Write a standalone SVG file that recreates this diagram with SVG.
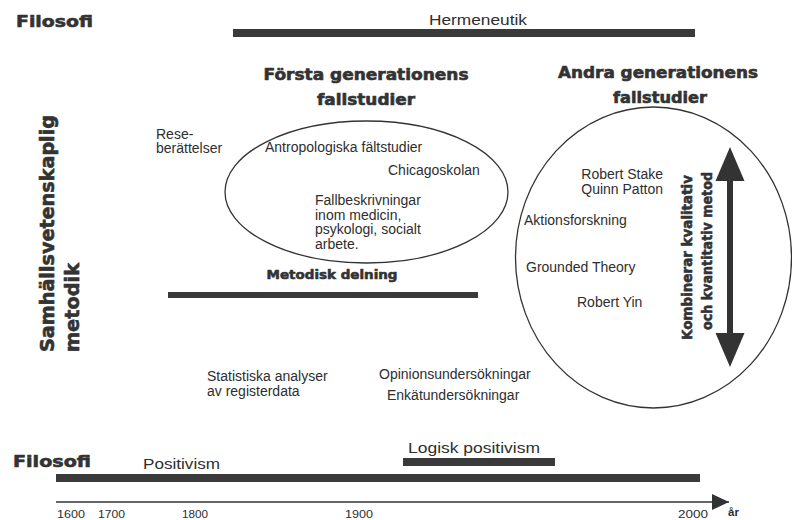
<svg xmlns="http://www.w3.org/2000/svg" width="792" height="520" viewBox="0 0 792 520">
<style>
.t{font-family:"Liberation Sans",Arial,sans-serif;font-size:14px;fill:#2e2e2e}
.h{font-family:"DejaVu Sans","Liberation Sans",sans-serif;font-weight:bold;fill:#333;stroke:#333;stroke-width:0.6;stroke-linejoin:round}
.bar{fill:#3a3a3a}
.ell{fill:none;stroke:#333;stroke-width:1.3}
.yr{font-family:"Liberation Sans",Arial,sans-serif;font-size:11.5px;fill:#2e2e2e}
</style>
<defs>
<marker id="ah" viewBox="0 0 17 16" refX="17" refY="8" markerWidth="17" markerHeight="16" markerUnits="userSpaceOnUse" orient="auto">
<path d="M0,0 L17,8 L0,16 Z" fill="#333"/>
</marker>
</defs>
<rect width="792" height="520" fill="#fff"/>

<g id="filosofi-top">
<text class="h" x="16" y="27" font-size="16.5" textLength="77" lengthAdjust="spacingAndGlyphs">Filosofi</text>
</g>
<g id="hermeneutik">
<text class="t" x="429" y="25" font-size="17" textLength="98" lengthAdjust="spacingAndGlyphs">Hermeneutik</text>
<rect class="bar" x="233" y="29" width="462" height="8"/>
</g>

<g id="first-gen-title">
<text class="h" x="366" y="80" font-size="15" text-anchor="middle" textLength="205" lengthAdjust="spacingAndGlyphs">Första generationens</text>
<text class="h" x="366" y="105" font-size="15" text-anchor="middle" textLength="98" lengthAdjust="spacingAndGlyphs">fallstudier</text>
</g>
<g id="second-gen-title">
<text class="h" x="658" y="78" font-size="15" text-anchor="middle" textLength="200" lengthAdjust="spacingAndGlyphs">Andra generationens</text>
<text class="h" x="660" y="103" font-size="15" text-anchor="middle" textLength="94" lengthAdjust="spacingAndGlyphs">fallstudier</text>
</g>

<g id="samhallsvetenskaplig">
<text class="h" font-size="19" transform="translate(54,352) rotate(-90)" textLength="237" lengthAdjust="spacingAndGlyphs">Samhällsvetenskaplig</text>
<text class="h" font-size="19" transform="translate(79,352) rotate(-90)" textLength="89" lengthAdjust="spacingAndGlyphs">metodik</text>
</g>

<g id="reseberattelser">
<text class="t" x="156" y="138.5">Rese-</text>
<text class="t" x="156" y="153">berättelser</text>
</g>

<g id="first-gen">
<ellipse class="ell" cx="366.5" cy="192" rx="141.5" ry="71"/>
<text class="t" x="265" y="152">Antropologiska fältstudier</text>
<text class="t" x="388" y="175">Chicagoskolan</text>
<text class="t" x="315" y="205">Fallbeskrivningar</text>
<text class="t" x="315" y="219.5">inom medicin,</text>
<text class="t" x="315" y="234">psykologi, socialt</text>
<text class="t" x="315" y="249">arbete.</text>
</g>

<g id="metodisk-delning">
<text class="h" x="332" y="279" font-size="12.5" text-anchor="middle" textLength="131" lengthAdjust="spacingAndGlyphs">Metodisk delning</text>
<rect class="bar" x="168" y="292" width="310" height="6"/>
</g>

<g id="second-gen">
<ellipse class="ell" cx="653.5" cy="257.5" rx="138" ry="150.5"/>
<text class="t" x="663" y="179" text-anchor="end">Robert Stake</text>
<text class="t" x="663" y="194" text-anchor="end">Quinn Patton</text>
<text class="t" x="524" y="225">Aktionsforskning</text>
<text class="t" x="526" y="272">Grounded Theory</text>
<text class="t" x="577" y="307">Robert Yin</text>
</g>

<g id="kombinerar">
<text class="h" font-size="14.5" transform="translate(692,340) rotate(-90)" textLength="165" lengthAdjust="spacingAndGlyphs">Kombinerar kvalitativ</text>
<text class="h" font-size="14.5" transform="translate(712,330) rotate(-90)" textLength="158" lengthAdjust="spacingAndGlyphs">och kvantitativ metod</text>
</g>

<g id="statistiska">
<text class="t" x="207" y="381">Statistiska analyser</text>
<text class="t" x="207" y="395.5">av registerdata</text>
</g>
<g id="opinion">
<text class="t" x="379" y="379">Opinionsundersökningar</text>
<text class="t" x="387" y="400">Enkätundersökningar</text>
</g>

<g id="filosofi-bottom">
<text class="h" x="13" y="467" font-size="16.5" textLength="78" lengthAdjust="spacingAndGlyphs">Filosofi</text>
</g>
<g id="positivism">
<text class="t" x="143" y="469" font-size="17" textLength="77" lengthAdjust="spacingAndGlyphs">Positivism</text>
<rect class="bar" x="56" y="474" width="644" height="8"/>
</g>
<g id="logisk-positivism">
<text class="t" x="408" y="453" font-size="17.5" textLength="132" lengthAdjust="spacingAndGlyphs">Logisk positivism</text>
<rect class="bar" x="403" y="458" width="152" height="8"/>
</g>

<g id="connectors">
<line x1="730" y1="178" x2="730" y2="336" stroke="#333" stroke-width="6"/>
<polygon points="730,147 744.5,181 715.5,181" fill="#333"/>
<polygon points="730,367 744.5,333 715.5,333" fill="#333"/>
<line x1="56" y1="502" x2="729" y2="502" stroke="#333" stroke-width="1.5" marker-end="url(#ah)"/>
</g>

<g id="axis-labels">
<text class="yr" x="57" y="517.5" textLength="28" lengthAdjust="spacingAndGlyphs">1600</text>
<text class="yr" x="98" y="517.5" textLength="27" lengthAdjust="spacingAndGlyphs">1700</text>
<text class="yr" x="182" y="517.5" textLength="26" lengthAdjust="spacingAndGlyphs">1800</text>
<text class="yr" x="345" y="517.5" textLength="28" lengthAdjust="spacingAndGlyphs">1900</text>
<text class="yr" x="678" y="517.5" textLength="30" lengthAdjust="spacingAndGlyphs">2000</text>
<text class="yr" x="728" y="516" font-weight="bold">år</text>
</g>
</svg>
